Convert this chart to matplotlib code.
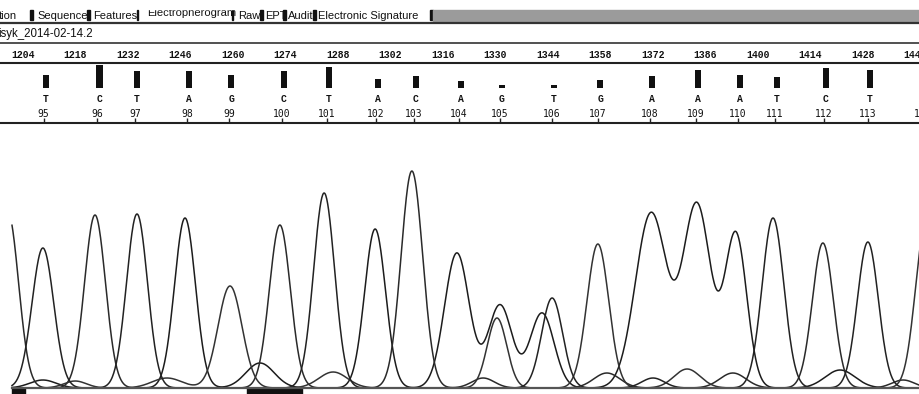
import numpy as np
import matplotlib.pyplot as plt
from matplotlib.patches import Rectangle

# ruler of scan numbers
scan_ticks = list(range(1204, 1443, 14))

# base calls
base_numbers = list(range(95, 115))
base_letters = list("TCTAGCTACAGTGAAATCT")
base_scans = [1210.1, 1224.4, 1234.4, 1248.3, 1259.5, 1273.6, 1285.6, 1298.7,
              1308.8, 1320.8, 1331.7, 1345.6, 1357.9, 1371.7, 1384.0, 1395.2,
              1405.1, 1418.1, 1429.9, 1444.5]
quality = [13, 23, 17, 17, 13, 17, 21, 9, 12, 7, 3, 3, 8, 12, 18, 13, 11, 20, 18]

# trace peaks per dye channel: scan position, signal height, width (scans)
a_pos = [1209.3, 1247.2, 1267.2, 1297.9, 1319.7, 1331.2, 1342.4, 1371.5, 1383.7, 1394.1, 1421.9]
a_height = [8, 170, 25, 159, 135, 83, 75, 175, 183, 153, 18]
a_width = [3.5, 2.8, 3.8, 2.8, 3.3, 3.2, 3.2, 4.2, 3.7, 2.9, 4.0]

c_pos = [1200.0, 1223.2, 1272.5, 1307.7, 1326.7, 1359.7, 1393.3, 1417.3, 1438.7]
c_height = [175, 173, 163, 217, 10, 15, 15, 145, 8]
c_width = [2.8, 2.8, 2.8, 2.9, 3.0, 3.5, 3.5, 2.8, 3.0]

g_pos = [1217.9, 1242.4, 1259.2, 1286.7, 1330.4, 1357.3, 1381.1, 1444.8]
g_height = [7, 10, 102, 16, 70, 144, 19, 165]
g_width = [3.0, 4.0, 3.2, 3.8, 2.6, 2.9, 3.5, 2.8]

t_pos = [1209.3, 1234.4, 1284.3, 1345.1, 1372.0, 1404.0, 1429.3]
t_height = [140, 174, 195, 90, 10, 170, 146]
t_width = [2.9, 2.8, 2.8, 2.8, 3.0, 2.9, 2.8]

tab_labels = ["tion", "Sequence", "Features", "Electropherogram", "Raw", "EPT",
              "Audit", "Electronic Signature"]
file_name = "isyk_2014-02-14.2"

W, H = 920, 394
S0 = 1204 - 23 / 3.75
S1 = 1204 + (W - 23) / 3.75

fig = plt.figure(figsize=(W / 100, H / 100), dpi=100)
fig.patch.set_facecolor("white")

# window chrome, in pixels
ui = fig.add_axes([0, 0, 1, 1])
ui.set_xlim(0, W)
ui.set_ylim(H, 0)
ui.axis("off")

tab_x = [-1, 37, 93, 147, 238, 265, 288, 318]
sep_x = [(30, 3), (87, 3), (137, 1), (232, 1), (260, 3), (283, 3), (313, 3), (430, 3)]
for lbl, x in zip(tab_labels, tab_x):
    y = 12.5 if lbl == "Electropherogram" else 16
    ui.text(x, y, lbl, fontsize=8, family="Liberation Sans", ha="left",
            va="center", color="#111")
ui.add_patch(Rectangle((145, 0), 90, 9, color="white", zorder=5))
for x, w in sep_x:
    ui.add_patch(Rectangle((x, 10), w, 10, color="#111"))
ui.add_patch(Rectangle((433, 10), W - 433, 11, color="#9b9b9b"))
ui.plot([0, W], [22.5, 22.5], color="#333", lw=1.6)
ui.plot([0, W], [42.5, 42.5], color="#333", lw=1.2)
ui.text(-2, 34, file_name, fontsize=8.3, family="Liberation Sans", ha="left",
        va="center", color="#111")
ui.plot([0, W], [63, 63], color="#222", lw=1.5)
ui.plot([0, W], [123, 123], color="#222", lw=1.5)
ui.add_patch(Rectangle((12, 388), 13, 6, color="#111"))
ui.add_patch(Rectangle((247, 388), 55, 6, color="#111"))

# base calls: x in scans, y in pixels
calls = fig.add_axes([0, 0, 1, 1])
calls.set_xlim(S0, S1)
calls.set_ylim(H, 0)
calls.axis("off")
calls.patch.set_alpha(0)

for s in scan_ticks:
    calls.text(s, 54.5, str(s), fontsize=7, family="Liberation Mono",
               weight="bold", ha="center", va="center", color="#111")
calls.bar(base_scans[:len(quality)], [-q for q in quality], width=1.7,
          bottom=88, color="#111")
calls.set_ylim(H, 0)
for s, b in zip(base_scans, base_letters):
    calls.text(s, 99, b, fontsize=7, family="Liberation Mono", weight="bold",
               ha="center", va="center", color="#111")
for s, n in zip(base_scans, base_numbers):
    calls.text(s - 0.6, 113.5, str(n), fontsize=7, family="DejaVu Sans Mono",
               ha="center", va="center", color="#111")
calls.vlines([s - 0.6 for s in base_scans], 118, 123, color="#222", lw=1)

# traces
tr = fig.add_axes([0, 0, 1, 270 / H])
tr.set_xlim(S0, S1)
tr.set_ylim(-6, 264)
tr.axis("off")
tr.patch.set_alpha(0)

x = np.linspace(1204 - 11 / 3.75, S1, 2000)
for pos, hgt, wid, col in [(a_pos, a_height, a_width, "#1c1c1c"),
                           (c_pos, c_height, c_width, "#2a2a2a"),
                           (g_pos, g_height, g_width, "#333333"),
                           (t_pos, t_height, t_width, "#222222")]:
    y = np.zeros_like(x)
    for p, h, w in zip(pos, hgt, wid):
        y += h * np.exp(-(x - p) ** 2 / (2 * w ** 2))
    tr.plot(x, y, color=col, lw=1.1)
tr.plot([1204 - 11 / 3.75, S1], [0, 0], color="#555", lw=1.6)

fig.savefig("out.png", dpi=100)
